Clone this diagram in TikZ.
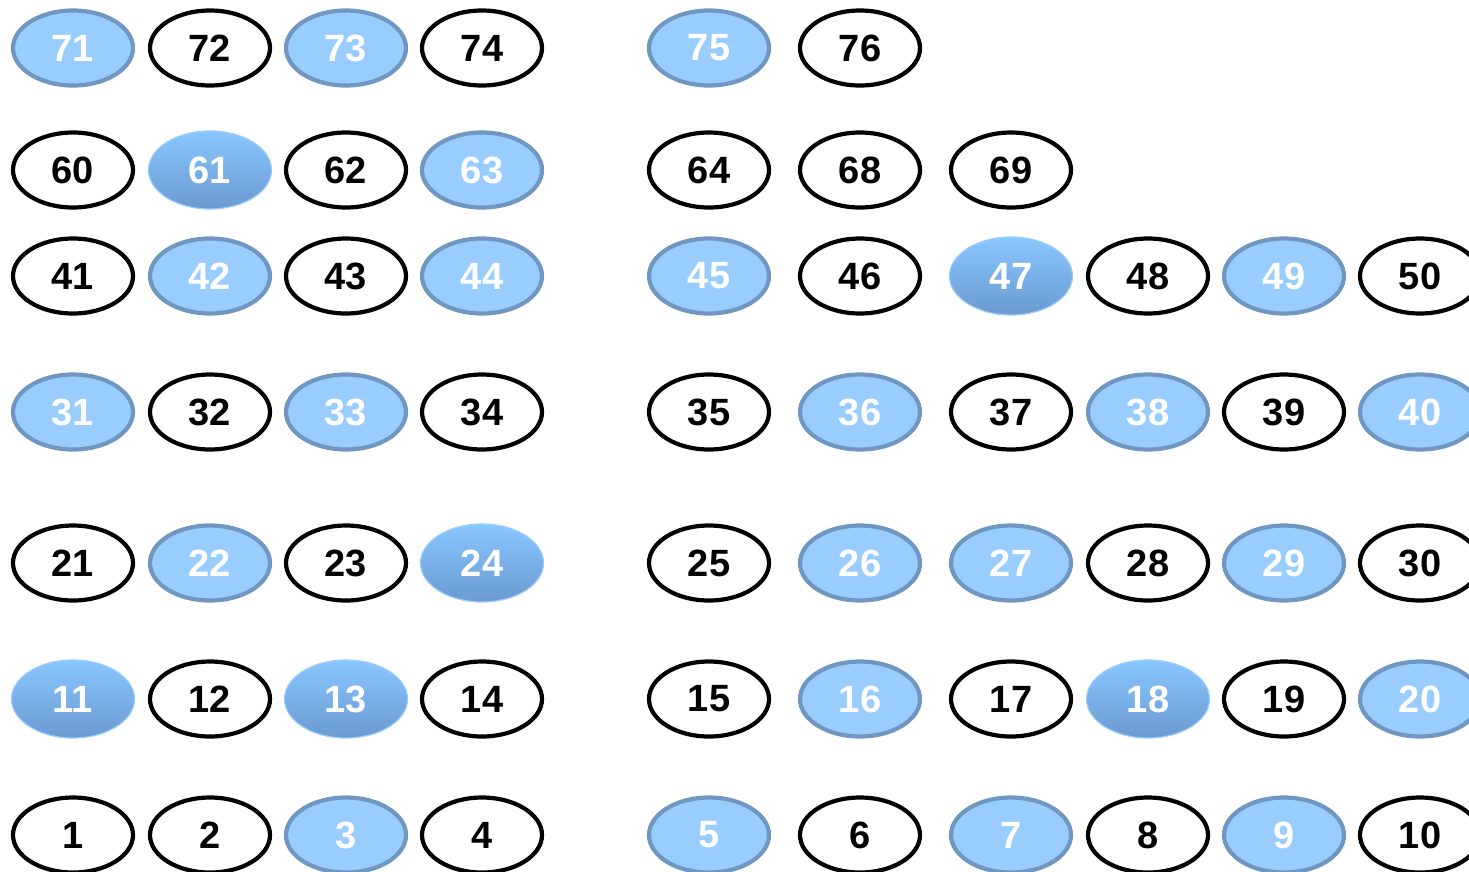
\documentclass[tikz,border=0pt]{standalone}
\usepackage{fontspec}
\setmainfont{Liberation Sans}
\usetikzlibrary{shapes.geometric}
\definecolor{lb}{HTML}{99CCFF}
\definecolor{lbd}{HTML}{7096C2}
\definecolor{gtop}{HTML}{8AC6FF}
\definecolor{gbot}{HTML}{6A9AD0}
\tikzset{
  oval/.style={ellipse, minimum width=120pt, minimum height=75pt, inner sep=0pt,
    font=\fontsize{38}{38}\selectfont\bfseries},
  W/.style={oval, draw=black, line width=4.2pt, fill=white, text=black},
  L/.style={oval, draw=lbd, line width=4.2pt, fill=lb, text=white},
  G/.style={oval, draw=lb, line width=1.2pt, minimum width=123pt, minimum height=78pt, top color=gtop, bottom color=gbot, text=white},
}
\begin{document}
\begin{tikzpicture}[x=1pt,y=-1pt]
\useasboundingbox (0,0) rectangle (1469,871);
\clip (0,0) rectangle (1469,871);
% columns: 1:72 2:209 3:345 4:481 5:708 6:859 7:1010 8:1147 9:1283 10:1419
\foreach \n/\s/\x/\y in {
 71/L/73/48, 72/W/210/48, 73/L/346/48, 74/W/482/48, 75/L/709/48, 76/W/860/48,
 60/W/73/170, 61/G/210/170, 62/W/346/170, 63/L/482/170, 64/W/709/170, 68/W/860/170, 69/W/1011/170,
 41/W/73/276, 42/L/210/276, 43/W/346/276, 44/L/482/276, 45/L/709/276, 46/W/860/276, 47/G/1011/276, 48/W/1148/276, 49/L/1284/276, 50/W/1420/276,
 31/L/73/412, 32/W/210/412, 33/L/346/412, 34/W/482/412, 35/W/709/412, 36/L/860/412, 37/W/1011/412, 38/L/1148/412, 39/W/1284/412, 40/L/1420/412,
 21/W/73/563, 22/L/210/563, 23/W/346/563, 24/G/482/563, 25/W/709/563, 26/L/860/563, 27/L/1011/563, 28/W/1148/563, 29/L/1284/563, 30/W/1420/563,
 11/G/73/699, 12/W/210/699, 13/G/346/699, 14/W/482/699, 15/W/709/699, 16/L/860/699, 17/W/1011/699, 18/G/1148/699, 19/W/1284/699, 20/L/1420/699,
 1/W/73/835, 2/W/210/835, 3/L/346/835, 4/W/482/835, 5/L/709/835, 6/W/860/835, 7/L/1011/835, 8/W/1148/835, 9/L/1284/835, 10/W/1420/835}
 { \node[\s] (n\n) at (\x,\y) {\n}; }
\end{tikzpicture}
\end{document}
